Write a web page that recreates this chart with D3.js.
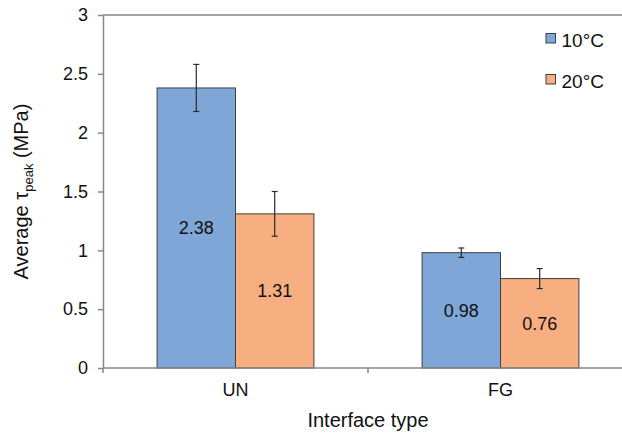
<!DOCTYPE html>
<html>
<head>
<meta charset="utf-8">
<script src="https://cdn.jsdelivr.net/npm/d3@7"></script>
<style>
  html, body { margin: 0; padding: 0; background: #fff; }
  svg { display: block; font-family: "Liberation Sans", Arial, sans-serif; }
</style>
</head>
<body>
<svg id="chart" width="622" height="434"></svg>
<script>
// Interface types and test temperatures
const categories = ["UN", "FG"];
const seriesNames = ["10°C", "20°C"];
// Average peak shear stress (MPa) per interface type, one array per temperature
const values10 = [2.38, 0.98];
const values20 = [1.31, 0.76];
// Standard deviations used for the error bars
const errors10 = [0.20, 0.04];
const errors20 = [0.19, 0.085];
const yTicks = [0, 0.5, 1, 1.5, 2, 2.5, 3];
const seriesColors = ["#7ea7d8", "#f7ae80"];

const svg = d3.select("#chart");
const plotLeft = 103, plotRight = 633, plotTop = 15, plotBottom = 368;

const x0 = d3.scaleBand().domain(categories).range([plotLeft, plotRight]).paddingInner(0).paddingOuter(0);
const x1 = d3.scaleBand().domain(seriesNames).range([0, x0.bandwidth()]).paddingInner(0).paddingOuter(0.69);
const y = d3.scaleLinear().domain([0, 3]).range([plotBottom, plotTop]);

const rows = categories.map((c, i) => ({
  cat: c,
  items: [
    { s: seriesNames[0], v: values10[i], e: errors10[i], color: seriesColors[0] },
    { s: seriesNames[1], v: values20[i], e: errors20[i], color: seriesColors[1] }
  ]
}));

// plot frame top edge
svg.append("line")
  .attr("x1", plotLeft).attr("x2", plotRight)
  .attr("y1", y(3)).attr("y2", y(3))
  .attr("stroke", "#878787").attr("stroke-width", 1.5);

// bars
const groups = svg.selectAll("g.cat").data(rows).join("g")
  .attr("class", "cat")
  .attr("transform", d => `translate(${x0(d.cat)},0)`);

groups.selectAll("rect").data(d => d.items).join("rect")
  .attr("x", d => x1(d.s))
  .attr("y", d => y(d.v))
  .attr("width", x1.bandwidth())
  .attr("height", d => y(0) - y(d.v))
  .attr("fill", d => d.color)
  .attr("stroke", "#3f3f3f")
  .attr("stroke-width", 1);

// value labels in the middle of each bar
groups.selectAll("text.val").data(d => d.items).join("text")
  .attr("class", "val")
  .attr("x", d => x1(d.s) + x1.bandwidth() / 2)
  .attr("y", d => y(d.v / 2))
  .attr("dy", "0.35em")
  .attr("text-anchor", "middle")
  .attr("font-size", 18)
  .attr("fill", "#111")
  .text(d => d.v.toFixed(2));

// error bars
const eb = groups.selectAll("g.err").data(d => d.items).join("g")
  .attr("class", "err")
  .attr("transform", d => `translate(${x1(d.s) + x1.bandwidth() / 2},0)`)
  .attr("stroke", "#2b2b2b").attr("stroke-width", 1.2);
eb.append("line").attr("x1", 0).attr("x2", 0)
  .attr("y1", d => y(d.v + d.e)).attr("y2", d => y(d.v - d.e));
eb.append("line").attr("x1", -3).attr("x2", 3)
  .attr("y1", d => y(d.v + d.e)).attr("y2", d => y(d.v + d.e));
eb.append("line").attr("x1", -3).attr("x2", 3)
  .attr("y1", d => y(d.v - d.e)).attr("y2", d => y(d.v - d.e));

// y axis
const yAxis = svg.append("g")
  .attr("transform", `translate(${plotLeft},0)`)
  .call(d3.axisLeft(y).tickValues(yTicks).tickFormat(d3.format("")).tickSize(5).tickPadding(10).tickSizeOuter(0));
yAxis.select(".domain").attr("stroke", "#878787").attr("stroke-width", 1.5);
yAxis.selectAll(".tick line").attr("stroke", "#878787").attr("stroke-width", 1.5);
yAxis.selectAll(".tick text").attr("font-size", 18).attr("fill", "#111")
  .attr("font-family", "Liberation Sans, Arial, sans-serif");

// x axis: ticks at category boundaries, labels at category centres
const xAxisLine = svg.append("g");
xAxisLine.append("line")
  .attr("x1", plotLeft).attr("x2", plotRight)
  .attr("y1", plotBottom).attr("y2", plotBottom)
  .attr("stroke", "#878787").attr("stroke-width", 1.5);
const boundaries = [x0(categories[0]), x0(categories[1]), x0(categories[1]) + x0.bandwidth()];
xAxisLine.selectAll("line.bt").data(boundaries).join("line")
  .attr("class", "bt")
  .attr("x1", d => d).attr("x2", d => d)
  .attr("y1", plotBottom).attr("y2", plotBottom + 5)
  .attr("stroke", "#878787").attr("stroke-width", 1.5);
svg.selectAll("text.catlabel").data(categories).join("text")
  .attr("class", "catlabel")
  .attr("x", d => x0(d) + x0.bandwidth() / 2)
  .attr("y", 396)
  .attr("text-anchor", "middle")
  .attr("font-size", 18)
  .attr("fill", "#111")
  .text(d => d);

// axis titles
svg.append("text")
  .attr("x", (plotLeft + plotRight) / 2)
  .attr("y", 427)
  .attr("text-anchor", "middle")
  .attr("font-size", 20)
  .attr("fill", "#111")
  .text("Interface type");

const yTitle = svg.append("text")
  .attr("transform", `translate(28,${(plotTop + plotBottom) / 2}) rotate(-90)`)
  .attr("text-anchor", "middle")
  .attr("font-size", 20)
  .attr("fill", "#111");
yTitle.append("tspan").text("Average τ");
yTitle.append("tspan").attr("font-size", 13).attr("dy", 5).text("peak");
yTitle.append("tspan").attr("dy", -5).text(" (MPa)");

// legend
const legend = svg.selectAll("g.leg").data(seriesNames).join("g")
  .attr("class", "leg")
  .attr("transform", (d, i) => `translate(546,${33.5 + i * 41})`);
legend.append("rect")
  .attr("width", 9.5).attr("height", 9.5)
  .attr("fill", (d, i) => seriesColors[i])
  .attr("stroke", "#3f3f3f").attr("stroke-width", 1);
legend.append("text")
  .attr("x", 15.5).attr("y", 13)
  .attr("font-size", 19)
  .attr("fill", "#111")
  .text(d => d);
</script>
</body>
</html>
